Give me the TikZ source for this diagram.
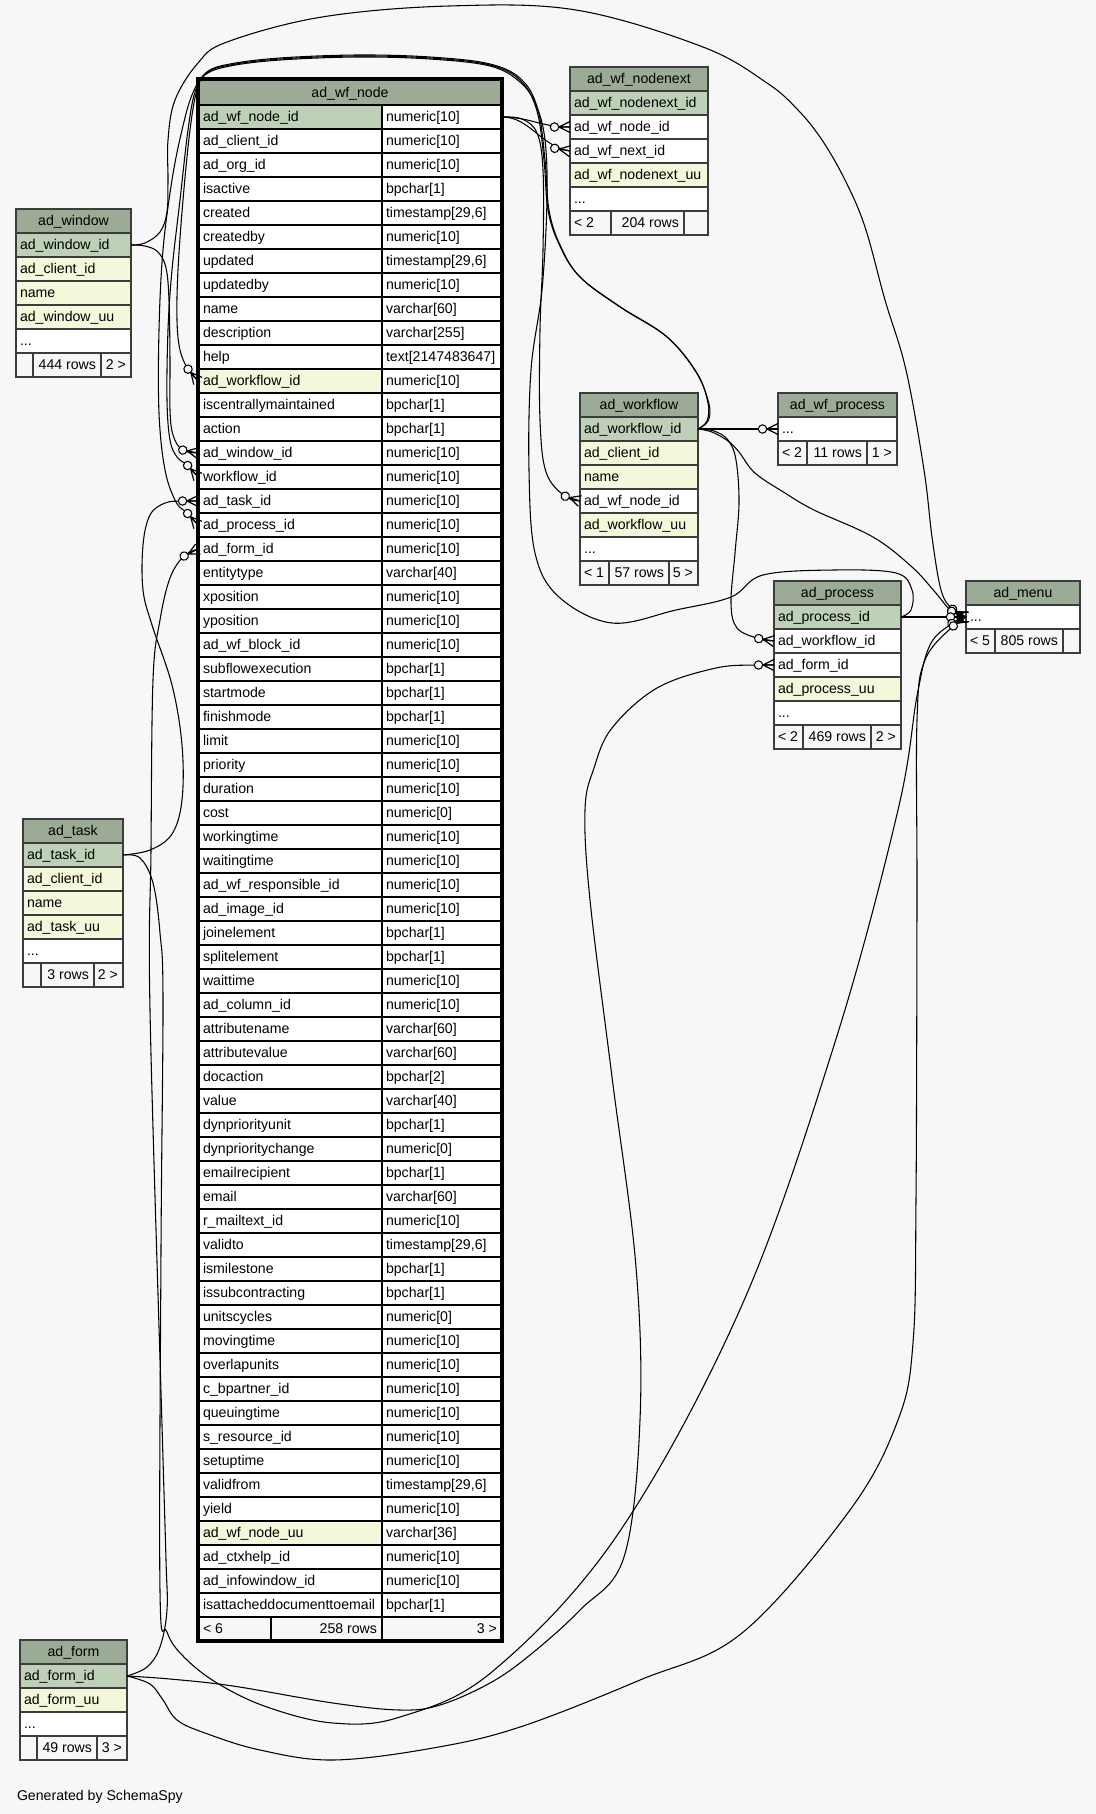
\documentclass[tikz,border=0pt]{standalone}
\usepackage{fontspec}
\setmainfont{Liberation Sans}
\usetikzlibrary{calc}
\definecolor{bg}{HTML}{F7F7F7}
\definecolor{hdr}{HTML}{9BAB96}
\definecolor{pk}{HTML}{BED1B8}
\definecolor{idx}{HTML}{F4F7DA}
\definecolor{bd}{HTML}{3C3C3C}
\newcommand\fsz{\fontsize{10.6pt}{12.7pt}\selectfont}
\newcommand\ddd{...}
\tikzset{
  cellbox/.style={draw=bd, line width=1.1pt, minimum height=18pt, inner sep=0pt, outer sep=0pt, anchor=north west},
  fcell/.style={cellbox, draw=black},
  ctext/.style={inner sep=0pt, outer sep=0pt, font=\fsz, text=black},
  edge/.style={draw=black, line width=0.8pt},
  crowodot/.pic={
    \draw[line width=0.9pt] (-11,0) -- (0,-5.5) (-11,0) -- (0,5.5) (-11,0) -- (0,0);
    \draw[line width=0.8pt, fill=bg] (-15.5,0) circle[radius=4.2];
  },
}
\newcommand\dbtable[6]{%
  \node[cellbox, fill=hdr, minimum width={(#3-#2)*0.75pt}] (#1-h) at (#2,#4) {};
  \node[ctext, anchor=base] at ([yshift=-3.4pt]#1-h.center) {#5};
  \foreach \rf/\rt [count=\i] in {#6} {
    \node[cellbox, fill=\rf, minimum width={(#3-#2)*0.75pt}] (#1-\i) at (#2,{#4+24*\i}) {};
    \node[ctext, anchor=base west] at ([xshift=3pt, yshift=-3.4pt]#1-\i.west) {\rt};
  }%
}
\newcommand\dbfoot[9]{%
  \node[cellbox, fill=bg, minimum width={(#3-#2)*0.75pt}] (#1-fa) at (#2,#6) {};
  \node[cellbox, fill=bg, minimum width={(#4-#3)*0.75pt}] (#1-fb) at (#3,#6) {};
  \node[cellbox, fill=bg, minimum width={(#5-#4)*0.75pt}] (#1-fc) at (#4,#6) {};
  \node[ctext, anchor=base west] at ([xshift=3pt, yshift=-3.4pt]#1-fa.west) {#7};
  \node[ctext, anchor=base east] at ([xshift=-3.75pt, yshift=-3.4pt]#1-fb.east) {#8};
  \node[ctext, anchor=base east] at ([xshift=-3.75pt, yshift=-3.4pt]#1-fc.east) {#9};
  \draw[bd, line width=1.4pt] (#1-h.north west) rectangle (#1-fc.south east);
}
\begin{document}
\begin{tikzpicture}[x=0.75pt, y=-0.75pt]
\useasboundingbox (0,0) rectangle (1096,1814);
\fill[bg] (0,0) rectangle (1096,1814);

% ---------- tables ----------
% ad_wf_node (focal)
\node[fcell, fill=hdr, minimum width={304*0.75pt}, minimum height={26*0.75pt}] (wfn-h) at (198,79) {};
\node[ctext, anchor=base] at ([yshift=-4.1pt]wfn-h.center) {ad\_wf\_node};
\foreach \rf/\ra/\rb [count=\i] in {
pk/ad\_wf\_node\_id/numeric[10],
white/ad\_client\_id/numeric[10],
white/ad\_org\_id/numeric[10],
white/isactive/bpchar[1],
white/created/{timestamp[29,6]},
white/createdby/numeric[10],
white/updated/{timestamp[29,6]},
white/updatedby/numeric[10],
white/name/varchar[60],
white/description/varchar[255],
white/help/text[2147483647],
idx/ad\_workflow\_id/numeric[10],
white/iscentrallymaintained/bpchar[1],
white/action/bpchar[1],
white/ad\_window\_id/numeric[10],
white/workflow\_id/numeric[10],
white/ad\_task\_id/numeric[10],
white/ad\_process\_id/numeric[10],
white/ad\_form\_id/numeric[10],
white/entitytype/varchar[40],
white/xposition/numeric[10],
white/yposition/numeric[10],
white/ad\_wf\_block\_id/numeric[10],
white/subflowexecution/bpchar[1],
white/startmode/bpchar[1],
white/finishmode/bpchar[1],
white/limit/numeric[10],
white/priority/numeric[10],
white/duration/numeric[10],
white/cost/numeric[0],
white/workingtime/numeric[10],
white/waitingtime/numeric[10],
white/ad\_wf\_responsible\_id/numeric[10],
white/ad\_image\_id/numeric[10],
white/joinelement/bpchar[1],
white/splitelement/bpchar[1],
white/waittime/numeric[10],
white/ad\_column\_id/numeric[10],
white/attributename/varchar[60],
white/attributevalue/varchar[60],
white/docaction/bpchar[2],
white/value/varchar[40],
white/dynpriorityunit/bpchar[1],
white/dynprioritychange/numeric[0],
white/emailrecipient/bpchar[1],
white/email/varchar[60],
white/r\_mailtext\_id/numeric[10],
white/validto/{timestamp[29,6]},
white/ismilestone/bpchar[1],
white/issubcontracting/bpchar[1],
white/unitscycles/numeric[0],
white/movingtime/numeric[10],
white/overlapunits/numeric[10],
white/c\_bpartner\_id/numeric[10],
white/queuingtime/numeric[10],
white/s\_resource\_id/numeric[10],
white/setuptime/numeric[10],
white/validfrom/{timestamp[29,6]},
white/yield/numeric[10],
idx/ad\_wf\_node\_uu/varchar[36],
white/ad\_ctxhelp\_id/numeric[10],
white/ad\_infowindow\_id/numeric[10],
white/isattacheddocumenttoemail/bpchar[1]} {
  \node[fcell, fill=\rf, minimum width={184*0.75pt}] (wfn-\i) at (198,{105+24*(\i-1)}) {};
  \node[fcell, fill=white, minimum width={120*0.75pt}] (wfnt-\i) at (382,{105+24*(\i-1)}) {};
  \node[ctext, anchor=base west] at ([xshift=3.75pt, yshift=-3.4pt]wfn-\i.west) {\ra};
  \node[ctext, anchor=base west] at ([xshift=3pt, yshift=-3.4pt]wfnt-\i.west) {\rb};
}
\node[fcell, fill=bg, minimum width={73*0.75pt}] (wfn-fa) at (198,1617) {};
\node[fcell, fill=bg, minimum width={111*0.75pt}] (wfn-fb) at (271,1617) {};
\node[fcell, fill=bg, minimum width={120*0.75pt}] (wfn-fc) at (382,1617) {};
\node[ctext, anchor=base west] at ([xshift=3.75pt, yshift=-3.4pt]wfn-fa.west) {< 6};
\node[ctext, anchor=base east] at ([xshift=-3.75pt, yshift=-3.4pt]wfn-fb.east) {258 rows};
\node[ctext, anchor=base east] at ([xshift=-3.75pt, yshift=-3.4pt]wfn-fc.east) {3 >};
\draw[black, line width=2.3pt] (wfn-h.north west) rectangle (wfn-fc.south east);

% ad_window
\dbtable{win}{16}{131}{209}{ad\_window}{pk/ad\_window\_id, idx/ad\_client\_id, idx/name, idx/ad\_window\_uu, white/\ddd}
\dbfoot{win}{16}{33}{101}{131}{353}{}{444 rows}{2 >}
% ad_wf_nodenext
\dbtable{nn}{570}{708}{67}{ad\_wf\_nodenext}{pk/ad\_wf\_nodenext\_id, white/ad\_wf\_node\_id, white/ad\_wf\_next\_id, idx/ad\_wf\_nodenext\_uu, white/\ddd}
\dbfoot{nn}{570}{611}{684}{708}{211}{< 2}{204 rows}{}
% ad_workflow
\dbtable{wf}{580}{698}{393}{ad\_workflow}{pk/ad\_workflow\_id, idx/ad\_client\_id, idx/name, white/ad\_wf\_node\_id, idx/ad\_workflow\_uu, white/\ddd}
\dbfoot{wf}{580}{609}{669}{698}{561}{< 1}{57 rows}{5 >}
% ad_wf_process
\dbtable{wp}{778}{897}{393}{ad\_wf\_process}{white/\ddd}
\dbfoot{wp}{778}{807}{867}{897}{441}{< 2}{11 rows}{1 >}
% ad_process
\dbtable{pr}{774}{901}{581}{ad\_process}{pk/ad\_process\_id, white/ad\_workflow\_id, white/ad\_form\_id, idx/ad\_process\_uu, white/\ddd}
\dbfoot{pr}{774}{803}{871}{901}{725}{< 2}{469 rows}{2 >}
% ad_menu
\dbtable{mn}{966}{1080}{581}{ad\_menu}{white/\ddd}
\dbfoot{mn}{966}{995}{1063}{1080}{629}{< 5}{805 rows}{}
% ad_task
\dbtable{tk}{23}{123}{819}{ad\_task}{pk/ad\_task\_id, idx/ad\_client\_id, idx/name, idx/ad\_task\_uu, white/\ddd}
\dbfoot{tk}{23}{41}{94}{123}{963}{}{3 rows}{2 >}
% ad_form
\dbtable{fm}{20}{127}{1640}{ad\_form}{pk/ad\_form\_id, idx/ad\_form\_uu, white/\ddd}
\dbfoot{fm}{20}{37}{97}{127}{1736}{}{49 rows}{3 >}

\node[ctext, anchor=base west] (gen) at (17,1800) {Generated by SchemaSpy};

% ---------- connectors ----------
\draw[edge] (wfnt-1.east) .. controls (530,117) and (540,127) .. (nn-2.west);
\draw[edge] (wfnt-1.east) .. controls (530,117) and (540,146) .. (nn-3.west);
\draw[edge] plot[smooth, tension=0.6] coordinates {(wfnt-1.east) (522,119) (537,133) (543,170) (543,250) (540,330) (540,420) (546,472) (564.5,496) (wf-4.west)};
% over the top of ad_wf_node
\draw[edge] plot[smooth, tension=0.6] coordinates {(wf-1.east) (707,421) (708,403) (697,373) (667,337) (620,307) (580,277) (560,245) (549,210) (545,160) (538,110) (522,80) (490,64) (430,57) (357,55) (280,58) (230,64) (207,72) (197,90) (190,130) (183,200) (178,270) (177,320) (180,350) (187.7,368.7) (wfn-12.west)};
\draw[edge] plot[smooth, tension=0.6] coordinates {(wf-1.east) (708,421) (709,404) (696,372) (666,336) (619,306) (579,276) (559,244) (548,210) (544,160) (537,111) (521,81) (490,65) (430,58) (357,56) (280,59) (230,65) (206,73) (195,92) (188,130) (180,200) (172,270) (168,330) (167,400) (170,440) (177,457) (187.3,465.1) (wfn-16.west)};
\draw[edge] plot[smooth, tension=0.6] coordinates {(pr-1.east) (911,610) (912,590) (896,573) (834,570) (763,575) (731,597) (676,610) (612,623) (559,597) (535,553) (529,470) (531,370) (542,290) (547,200) (545,140) (536,105) (520,82) (490,66) (430,59) (357,57) (280,60) (230,66) (205,75) (192,95) (182,130) (172,180) (163,250) (159,330) (159,413) (165,470) (176,502) (187.3,513.1) (wfn-18.west)};
% ad_window
\draw[edge] plot[smooth, tension=0.6] coordinates {(win-1.east) (145,246) (158,252) (166,268) (169,300) (170,360) (170,410) (173,435) (182.3,450) (wfn-15.west)};
\draw[edge] plot[smooth, tension=0.6] coordinates {(win-1.east) (145,243) (160,232) (167,212) (168,180) (168,140) (175,100) (198,63) (227,42) (322,17) (449,6) (576,10) (703,47) (767,83) (798,110) (822,140) (845,180) (865,227) (885,300) (906,370) (924,470) (932,537) (941,590) (952.1,609) (mn-1.west)};
% ad_workflow children
\draw[edge] (wf-1.east) -- (wp-1.west);
\draw[edge] plot[smooth, tension=0.6] coordinates {(wf-1.east) (714,431) (728,440) (736,460) (739,503) (735,553) (731,603) (737,628) (758.2,638.5) (pr-2.west)};
\draw[edge] plot[smooth, tension=0.6] coordinates {(wf-1.east) (712,432) (728,441) (739,452) (755,473) (785,493) (814,510) (873,537) (912,567) (935,592) (951.2,611) (mn-1.west)};
% ad_process
\draw[edge] (pr-1.east) -- (mn-1.west);
% ad_task
\draw[edge] plot[smooth, tension=0.6] coordinates {(tk-1.east) (150,850) (172,834) (182,800) (182,745) (172,685) (152,625) (143,590) (143,545) (150,515) (165,503) (182.5,501) (wfn-17.west)};
\draw[edge] plot[smooth, tension=0.6] coordinates {(tk-1.east) (140,858) (153,883) (160,933) (163,1000) (161,1250) (160,1591) (167,1632) (184,1657) (217,1683) (267,1707) (333,1723) (400,1717) (493,1671) (618,1534) (742,1305) (836,1039) (898,810) (917,696) (930,645) (951.5,623.8) (mn-1.west)};
% ad_form
\draw[edge] plot[smooth, tension=0.6] coordinates {(fm-1.east) (147,1667) (160,1647) (167,1610) (166,1560) (162,1425) (150,1010) (151,850) (153,680) (160,620) (170,578) (183.7,556.3) (wfn-19.west)};
\draw[edge] plot[smooth, tension=0.6] coordinates {(fm-1.east) (170,1679) (233,1686) (333,1703) (400,1710) (440,1705) (490,1683) (530,1655) (580,1610) (624,1557) (640,1420) (636,1267) (612,1077) (590,900) (585,810) (594,768) (612,728) (657,688) (716,668) (758.5,665) (pr-3.west)};
\draw[edge] plot[smooth, tension=0.6] coordinates {(fm-1.east) (150,1684) (163,1700) (177,1720) (205,1733) (260,1750) (333,1760) (433,1748) (520,1727) (640,1680) (742,1633) (850,1510) (898,1420) (913,1343) (916,1200) (917,900) (917,720) (925,660) (952.9,626.2) (mn-1.west)};

% ---------- crow's feet with open circle ----------
\pic at (nn-2.west) {crowodot};
\pic[rotate=-10] at (nn-3.west) {crowodot};
\pic[rotate=-18] at (wf-4.west) {crowodot};
\pic[rotate=-50] at (wfn-12.west) {crowodot};
\pic[rotate=-11] at (wfn-15.west) {crowodot};
\pic[rotate=-48] at (wfn-16.west) {crowodot};
\pic at (wfn-17.west) {crowodot};
\pic[rotate=-48] at (wfn-18.west) {crowodot};
\pic[rotate=27] at (wfn-19.west) {crowodot};
\pic at (wp-1.west) {crowodot};
\pic[rotate=-9] at (pr-2.west) {crowodot};
\pic at (pr-3.west) {crowodot};
\pic[rotate=-30] at (mn-1.west) {crowodot};
\pic[rotate=-22] at (mn-1.west) {crowodot};
\pic at (mn-1.west) {crowodot};
\pic[rotate=25] at (mn-1.west) {crowodot};
\pic[rotate=35] at (mn-1.west) {crowodot};
\end{tikzpicture}
\end{document}
